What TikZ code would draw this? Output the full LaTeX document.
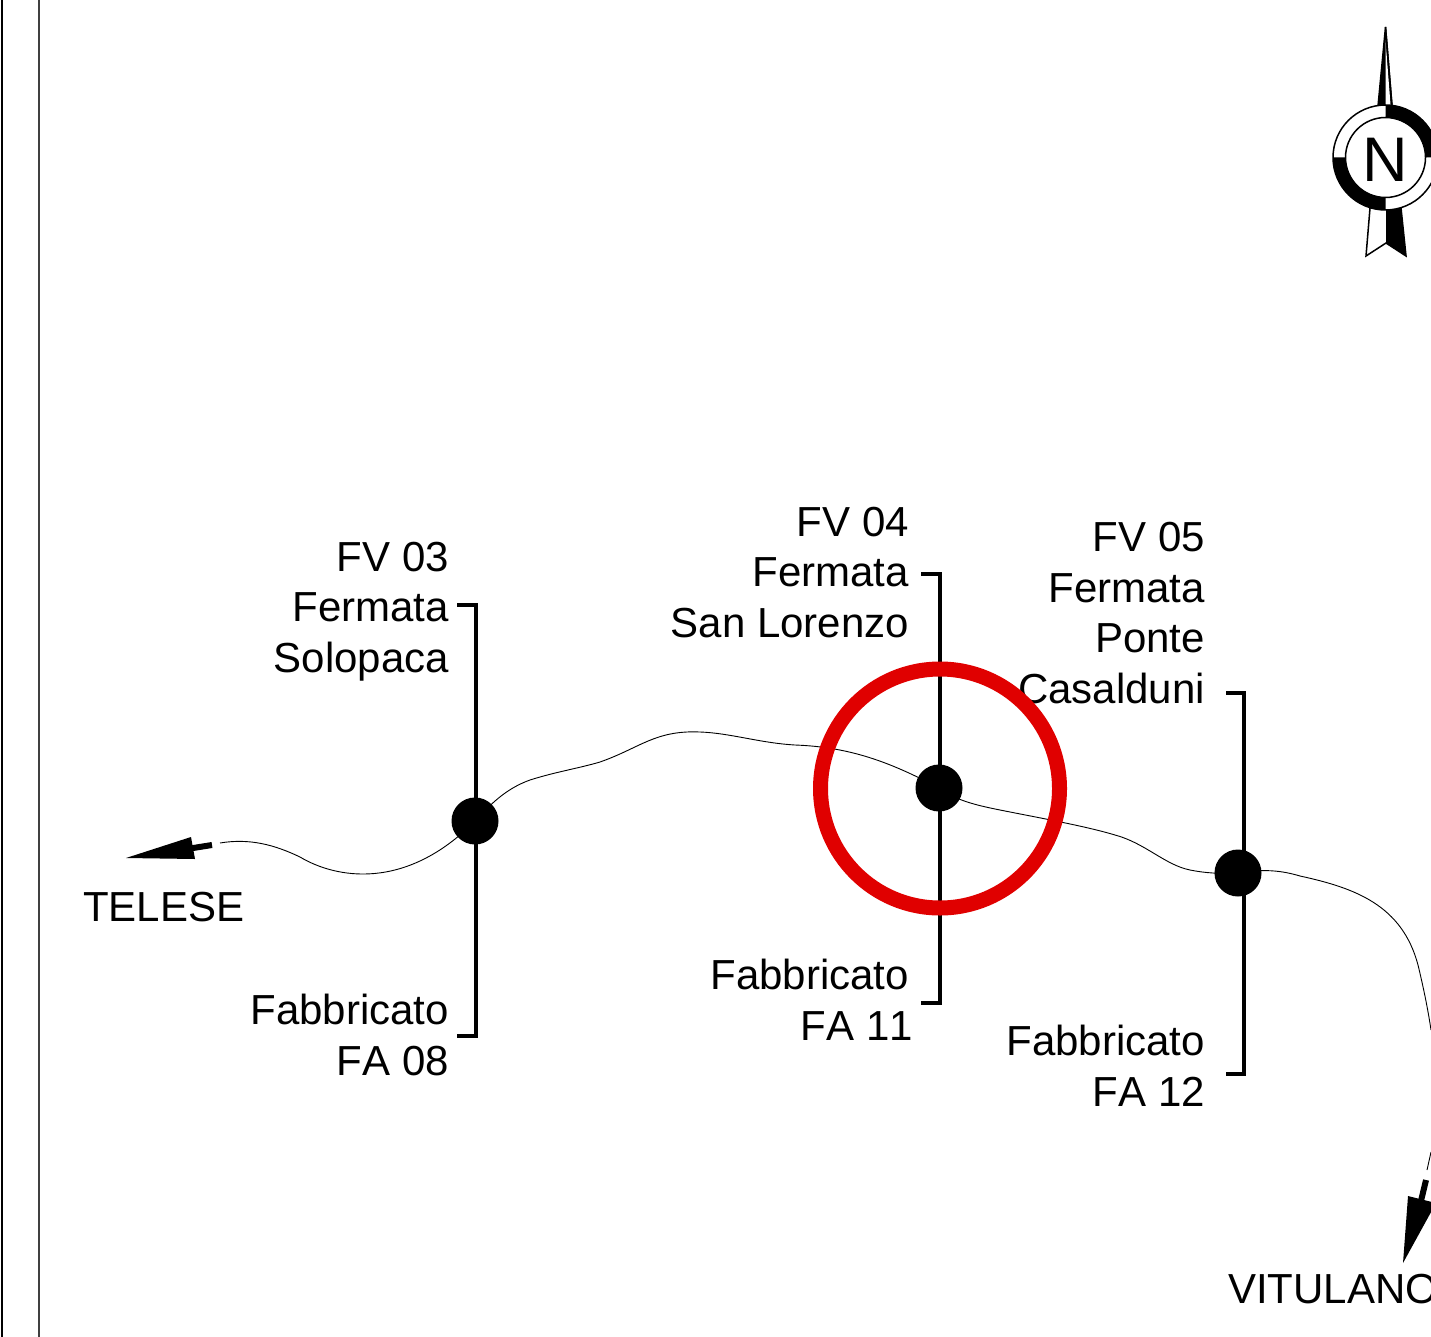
\documentclass[tikz,border=0pt]{standalone}
\usepackage{fontspec}
\usetikzlibrary{calc}
\setmainfont[Kerning=Off]{Liberation Sans}
\definecolor{ringred}{RGB}{224,0,0}
\tikzset{
  lab/.style={font=\fontsize{42}{50.7}\selectfont,inner sep=0pt,outer sep=0pt},
  rlab/.style={lab,align=right,anchor=base east},
  llab/.style={lab,anchor=base west},
  station/.style={circle,fill=black,draw=none,minimum size=47pt,inner sep=0pt},
  bracket/.style={line width=4pt,line join=miter},
  track/.style={line width=0.9pt},
  head/.style={fill=black,draw=none},
  shaft/.style={line width=6pt},
  edge/.style={line width=2pt,draw=black!75}
}
\begin{document}
\begin{tikzpicture}[x=1pt,y=-1pt]
\useasboundingbox (0,0) rectangle (1431,1337);
\clip (0,0) rectangle (1431,1337);
% frame lines
\coordinate (e1t) at (1.5,0); \coordinate (e1b) at (1.5,1337);
\coordinate (e2t) at (39,0); \coordinate (e2b) at (39,1337);
\draw[line width=2pt,black] (e1t) -- (e1b);
\draw[edge] (e2t) -- (e2b);
% stations
\coordinate (s1) at (475,821);
\coordinate (s2) at (939,788);
\coordinate (s3) at (1238,873);
% track
\coordinate (tstart) at (220,843);
\coordinate (tend) at (1431,1030);
\draw[track] (tstart) .. controls (250,838) and (275,845) .. (300,857)
  .. controls (335,878) and (405,892) .. (s1);
\draw[track] (s1) .. controls (490,805) and (505,789) .. (530,780)
  .. controls (555,772) and (580,768) .. (600,762)
  .. controls (640,748) and (655,730) .. (700,732)
  .. controls (730,733) and (760,743) .. (795,745)
  .. controls (850,747) and (890,762) .. (s2);
\draw[track] (s2) .. controls (955,800) and (975,805) .. (1000,810)
  .. controls (1040,818) and (1085,826) .. (1115,835)
  .. controls (1145,843) and (1165,865) .. (1190,870)
  .. controls (1205,873) and (1220,874) .. (s3);
\draw[track] (s3) .. controls (1262,869) and (1280,870) .. (1300,876)
  .. controls (1355,888) and (1402,905) .. (1418,965)
  .. controls (1424,990) and (1428,1010) .. (tend);
\coordinate (vt) at (1431,1152); \coordinate (vb) at (1427,1170);
\draw[track] (vt) -- (vb);
% brackets
\coordinate (b1a) at (457,605); \coordinate (b1b) at (475.5,605);
\coordinate (b1c) at (475.5,1036); \coordinate (b1d) at (457,1036);
\coordinate (b2a) at (921,574); \coordinate (b2b) at (939.5,574);
\coordinate (b2c) at (939.5,1003); \coordinate (b2d) at (921,1003);
\coordinate (b3a) at (1226,693); \coordinate (b3b) at (1244,693);
\coordinate (b3c) at (1244,1074); \coordinate (b3d) at (1226,1074);
\draw[bracket] (b1a) -- (b1b) -- (b1c) -- (b1d);
\draw[bracket] (b2a) -- (b2b) -- (b2c) -- (b2d);
\draw[bracket] (b3a) -- (b3b) -- (b3c) -- (b3d);
\node[station] (n1) at (s1) {};
\node[station] (n2) at (s2) {};
\node[station] (n3) at (s3) {};
% arrows
\coordinate (a1s) at (212,845); \coordinate (a1e) at (190,848.5);
\draw[shaft] (a1s) -- (a1e);
\fill[head] (126,858) -- (191,837) -- (195,859) -- cycle;
\coordinate (a2s) at (1426,1180); \coordinate (a2e) at (1420,1205);
\draw[shaft] (a2s) -- (a2e);
\fill[head] (1403,1263) -- (1408,1196) -- (1436,1203) -- cycle;
% labels
\node[rlab] at (449,672.5) {FV 03\\Fermata\\Solopaca};
\node[rlab] at (449,1075.5) {Fabbricato\\FA 08};
\node[rlab] at (909,637.5) {FV 04\\Fermata\\San Lorenzo};
\node[rlab] at (913,1040.5) {Fabbricato\hspace*{4pt}\\FA 11};
\node[rlab] at (1205,703.5) {FV 05\\Fermata\\Ponte\\Casalduni};
\node[rlab] at (1205,1106.5) {Fabbricato\\FA 12};
\node[llab] at (83,921.5) {TELESE};
\node[llab] at (1228,1303) {VITULANO};
% ring
\coordinate (ringc) at (940,788.5);
\draw[ringred,line width=15pt] (ringc) circle (119.5);
% compass
\coordinate (cc) at (1385.5,157.5);
\filldraw[fill=black,draw=black,line width=1.5pt] (1385.5,27) -- (1378,106) -- (1392,106) -- cycle;
\fill[white] (1385.5,40) -- (1385.5,106) -- (1390.6,106) -- cycle;
\draw[line width=1.5pt] (1385.5,27) -- (1392,106);
\filldraw[fill=white,draw=black,line width=1.5pt] (1370,208) -- (1366,256) -- (1386,243) -- (1406,256) -- (1401,208) -- cycle;
\fill[black] (1386,208) -- (1386,243) -- (1406,256) -- (1401,208) -- cycle;
\filldraw[fill=white,draw=black,line width=1.5pt] (cc) circle (52.5);
\fill[black] ($(cc)+(0,-52.5)$) arc[start angle=-90,end angle=0,radius=52.5] -- ($(cc)+(40,0)$) arc[start angle=0,end angle=-90,radius=40] -- cycle;
\fill[black] ($(cc)+(0,52.5)$) arc[start angle=90,end angle=180,radius=52.5] -- ($(cc)+(-40,0)$) arc[start angle=180,end angle=90,radius=40] -- cycle;
\draw[line width=1.5pt,fill=white] (cc) circle (40);
\node[font=\fontsize{63}{63}\selectfont,inner sep=0pt] (north) at (1385.5,160) {N};
\end{tikzpicture}
\end{document}
